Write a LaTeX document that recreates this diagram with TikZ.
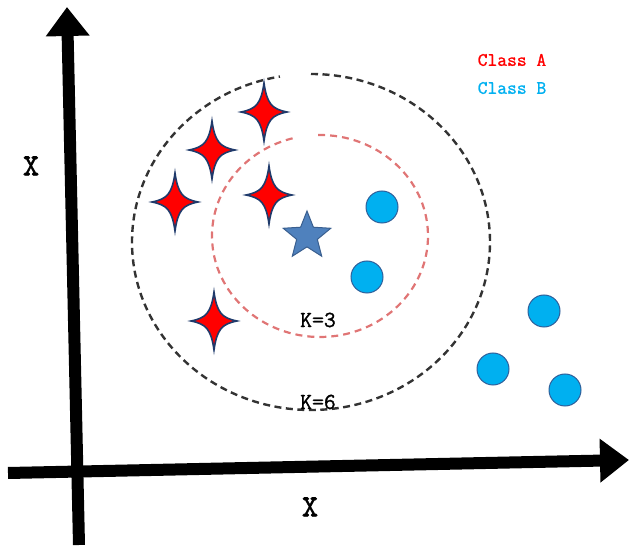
\documentclass[tikz,border=0pt]{standalone}
\usepackage{fontspec}
\setmainfont{Liberation Serif}
\newfontfamily\labfont{Latin Modern Mono}[FakeBold=1.2]
\usetikzlibrary{arrows.meta,shapes.geometric}
\definecolor{starred}{HTML}{FF0000}
\definecolor{staredge}{HTML}{1F3A6B}
\definecolor{bluestar}{HTML}{4F81BD}
\definecolor{bluestaredge}{HTML}{3A5F8F}
\definecolor{dotfill}{HTML}{00B0F0}
\definecolor{dotedge}{HTML}{2F5F9A}
\definecolor{reddash}{HTML}{E07575}
\definecolor{blackdash}{HTML}{333333}
\tikzset{
  axisline/.style={line width=12pt,-{Triangle[length=29pt,width=42pt]}},
  classA/.style={fill=starred,draw=staredge,line width=1.6pt},
  querystar/.style={star,star points=5,star point ratio=2.3,minimum size=50pt,inner sep=0pt,fill=bluestar,draw=bluestaredge,line width=1pt},
  classB/.style={circle,minimum size=32pt,inner sep=0pt,fill=dotfill,draw=dotedge,line width=1pt},
  kzero/.style={draw=blackdash,line width=2.4pt,dash pattern=on 7pt off 4.5pt},
  kthree/.style={draw=reddash,line width=2.2pt,dash pattern=on 7pt off 5pt},
  klabel/.style={font=\labfont\fontsize{23}{23}\selectfont,inner sep=0pt},
  axislabel/.style={font=\labfont\fontsize{44}{44}\selectfont,inner sep=0pt},
  legend/.style={font=\labfont\fontsize{19}{19}\selectfont,inner sep=0pt}
}
\begin{document}
\begin{tikzpicture}[x=1pt,y=1pt,yscale=-1]
\useasboundingbox (0,0) rectangle (630,548);
% axes
\coordinate (xs) at (8,473);
\coordinate (xe) at (629,460);
\coordinate (ys) at (79,545);
\coordinate (ye) at (67,7);
\draw[axisline] (xs) -- (xe);
\draw[axisline] (ys) -- (ye);
\node[axislabel] (xlabL) at (31,166) {\scalebox{0.72}[1]{x}};
\node[axislabel] (xlabB) at (310,507) {\scalebox{0.72}[1]{x}};
% K=6 circle (black dashed) with gap at top
\draw[kzero] (311,242) ++(270:179 and 168) arc[start angle=270,end angle=620,x radius=179,y radius=168];
% K=3 circle (red dashed) with gap at top
\draw[kthree] (320,236) ++(269:108 and 101) arc[start angle=269,end angle=616.6,x radius=108,y radius=101];
% class A stars
\foreach \px/\py in {264/112, 212/150, 175/202, 269/195, 214/321}{
  \draw[classA,shift={(\px,\py)}] (0,-29) .. controls (3,-8) and (8,-3) .. (23,0)
     .. controls (8,3) and (3,8) .. (0,29)
     .. controls (-3,8) and (-8,3) .. (-23,0)
     .. controls (-8,-3) and (-3,-8) .. cycle;
}
% query star
\node[querystar] (q) at (307,236) {};
% class B dots
\node[classB] (b1) at (382,207) {};
\node[classB] (b2) at (367,277) {};
\node[classB] (b3) at (544,311) {};
\node[classB] (b4) at (493,369) {};
\node[classB] (b5) at (565,390) {};
% labels
\node[klabel] (k3) at (318,320) {K=3};
\node[klabel] (k6) at (318,402) {K=6};
\node[legend,text=starred] (la) at (512,60) {Class A};
\node[legend,text=dotfill] (lb) at (512,88) {Class B};
\end{tikzpicture}
\end{document}
